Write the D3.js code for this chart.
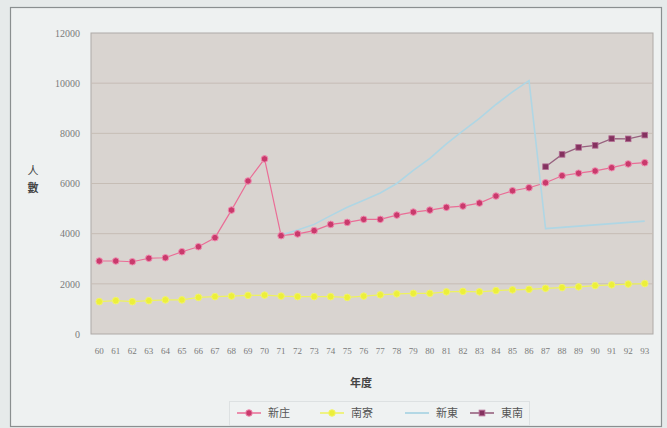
<!DOCTYPE html>
<html><head><meta charset="utf-8">
<script src="https://cdn.jsdelivr.net/npm/d3@7"></script>
<style>
html,body{margin:0;padding:0;background:#e6eaea;}
svg{display:block;}
</style></head>
<body>
<svg id="chart" width="667" height="428"></svg>
<script>
const years = ["60","61","62","63","64","65","66","67","68","69","70","71","72","73","74","75","76","77","78","79","80","81","82","83","84","85","86","87","88","89","90","91","92","93"];
const yTicks = [0,2000,4000,6000,8000,10000,12000];
const seriesNames = ["新庄","南寮","新東","東南"];
const xinzhuang = [2910,2910,2880,3020,3040,3280,3480,3840,4940,6100,6980,3920,3990,4120,4370,4450,4570,4570,4740,4860,4940,5050,5100,5220,5500,5710,5830,6030,6310,6410,6500,6630,6780,6830];
const nanliao = [1290,1330,1290,1330,1360,1360,1460,1490,1510,1540,1550,1510,1490,1490,1490,1460,1510,1560,1600,1620,1620,1680,1700,1680,1730,1760,1780,1820,1850,1880,1930,1960,1990,2010];
const xindong = [null,null,null,null,null,null,null,null,null,null,null,3950,4150,4370,4720,5050,5330,5620,6000,6520,7000,7580,8100,8600,9150,9650,10100,4200,4250,4300,4350,4400,4450,4500];
const dongnan = [null,null,null,null,null,null,null,null,null,null,null,null,null,null,null,null,null,null,null,null,null,null,null,null,null,null,null,6670,7160,7440,7520,7790,7780,7930];

const svg = d3.select("#chart");
const W = 667, H = 428;
const plot = {l:91, r:653, t:33, b:334};

// outer frame
svg.append("rect").attr("x",0).attr("y",0).attr("width",W).attr("height",H).attr("fill","#e6eaea");
svg.append("rect").attr("x",10.5).attr("y",7.5).attr("width",651).attr("height",419)
  .attr("fill","#eef1f1").attr("stroke","#8a8f90").attr("stroke-width",1.2);

const x = d3.scaleBand().domain(years).range([plot.l, plot.r]).padding(0);
const y = d3.scaleLinear().domain([0,12000]).range([plot.b, plot.t]);
const cx = d => x(d) + x.bandwidth()/2;

// plot area
svg.append("rect").attr("x",plot.l).attr("y",plot.t).attr("width",plot.r-plot.l).attr("height",plot.b-plot.t)
  .attr("fill","#d9d4d0").attr("stroke","#aeaaa7").attr("stroke-width",1);

// gridlines
svg.append("g").selectAll("line").data(yTicks.filter(v=>v>0 && v<12000)).join("line")
  .attr("x1",plot.l).attr("x2",plot.r).attr("y1",d=>y(d)).attr("y2",d=>y(d))
  .attr("stroke","#c6bdb5").attr("stroke-width",1);

// y axis
const yAxis = d3.axisLeft(y).tickValues(yTicks).tickSize(0).tickPadding(11).tickFormat(d3.format("d"));
const gy = svg.append("g").attr("transform",`translate(${plot.l},0)`).call(yAxis);
gy.select(".domain").remove();
gy.selectAll("text").attr("font-family","Liberation Serif").attr("font-size",10).attr("fill","#7a7a7a");

// x axis
const xAxis = d3.axisBottom(x).tickSize(0).tickPadding(14);
const gx = svg.append("g").attr("transform",`translate(0,${plot.b})`).call(xAxis);
gx.select(".domain").remove();
gx.selectAll("text").attr("font-family","Liberation Serif").attr("font-size",9).attr("fill","#7a7a7a");

// axis titles
svg.append("text").attr("x",33).attr("y",175).attr("text-anchor","middle")
  .attr("font-family","Noto Sans CJK TC").attr("font-size",11).attr("fill","#444").text("人");
svg.append("text").attr("x",33).attr("y",192).attr("text-anchor","middle")
  .attr("font-family","Noto Sans CJK TC").attr("font-size",11).attr("font-weight","bold").attr("fill","#444").text("數");
svg.append("text").attr("x",361).attr("y",387).attr("text-anchor","middle")
  .attr("font-family","Noto Sans CJK TC").attr("font-size",11).attr("font-weight","bold").attr("fill","#444").text("年度");

const line = d3.line().defined(d=>d.v!=null).x(d=>cx(d.k)).y(d=>y(d.v));
const toPts = arr => years.map((k,i)=>({k, v:arr[i]}));

const styles = [
  {data:xinzhuang, line:"#ea6d96", fill:"#c93a6c", stroke:"#f08cb0", shape:"circle", r:3.3, w:1.2},
  {data:nanliao,   line:"#eef25e", fill:"#ecef3a", stroke:"#f2f46a", shape:"circle", r:3.3, w:1.2},
  {data:xindong,   line:"#afd6e4", fill:null, shape:"none", w:1.6},
  {data:dongnan,   line:"#97627f", fill:"#84325f", stroke:"#b26a92", shape:"square", r:2.8, w:1.3}
];

styles.forEach(s=>{
  const pts = toPts(s.data);
  svg.append("path").datum(pts).attr("d",line).attr("fill","none")
    .attr("stroke",s.line).attr("stroke-width",s.w);
});
styles.forEach(s=>{
  const pts = toPts(s.data).filter(d=>d.v!=null);
  if(s.shape==="circle"){
    svg.append("g").selectAll("circle").data(pts).join("circle")
      .attr("cx",d=>cx(d.k)).attr("cy",d=>y(d.v)).attr("r",s.r)
      .attr("fill",s.fill).attr("stroke",s.stroke).attr("stroke-width",1);
  } else if(s.shape==="square"){
    svg.append("g").selectAll("rect").data(pts).join("rect")
      .attr("x",d=>cx(d.k)-s.r).attr("y",d=>y(d.v)-s.r).attr("width",2*s.r).attr("height",2*s.r)
      .attr("fill",s.fill).attr("stroke",s.stroke).attr("stroke-width",0.8);
  }
});

// legend
const lg = svg.append("g");
lg.append("rect").attr("x",229.5).attr("y",401.5).attr("width",300).attr("height",24)
  .attr("fill","#eff2f2").attr("stroke","#dde1e2");
const legX = [237, 320, 405, 470];
styles.forEach((s,i)=>{
  const g = lg.append("g").attr("transform",`translate(${legX[i]},413)`);
  g.append("line").attr("x1",0).attr("x2",24).attr("y1",0).attr("y2",0).attr("stroke",s.line).attr("stroke-width",s.w+0.3);
  if(s.shape==="circle") g.append("circle").attr("cx",12).attr("cy",0).attr("r",s.r).attr("fill",s.fill).attr("stroke",s.stroke);
  if(s.shape==="square") g.append("rect").attr("x",12-s.r).attr("y",-s.r).attr("width",2*s.r).attr("height",2*s.r).attr("fill",s.fill).attr("stroke",s.stroke);
  g.append("text").attr("x",31).attr("y",4).attr("font-family","Noto Sans CJK TC").attr("font-size",11)
    .attr("fill","#555").text(seriesNames[i]);
});
</script>
</body></html>
